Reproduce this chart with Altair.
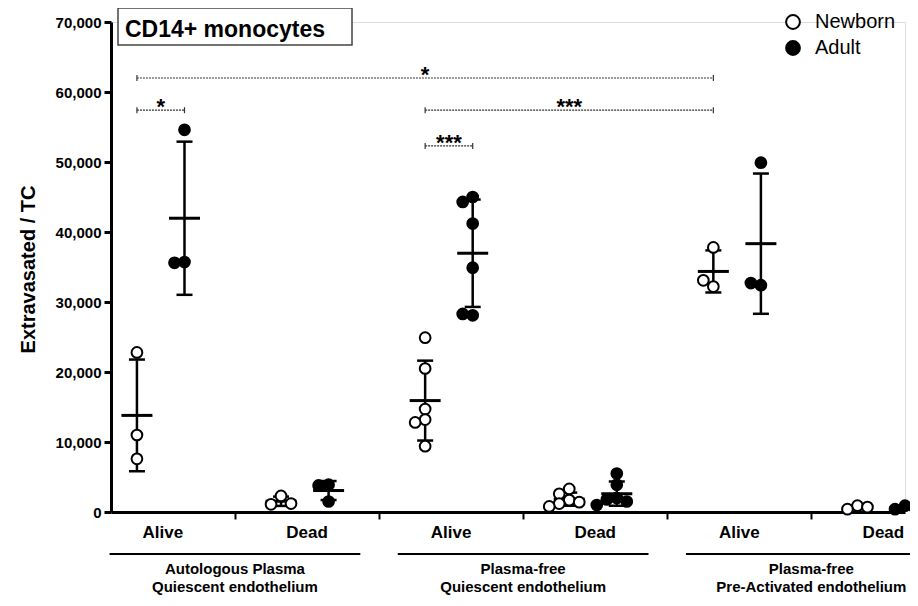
import altair as alt
import pandas as pd

# ---------------- data ----------------
categories = ["Alive", "Dead", "Alive", "Dead", "Alive", "Dead"]
conditions = [
    "Autologous Plasma\nQuiescent endothelium",
    "Plasma-free\nQuiescent endothelium",
    "Plasma-free\nPre-Activated endothelium",
]
groups = ["Newborn", "Adult"]

newborn = [
    [22800, 11000, 7600],
    [2300, 1100, 1200],
    [24900, 20500, 14700, 13200, 12800, 9400],
    [3300, 2600, 1700, 1400, 1200, 800],
    [37800, 32200, 33100],
    [900, 400, 700],
]
adult = [
    [54600, 35700, 35600],
    [3900, 3800, 1500],
    [45000, 44300, 41200, 34900, 28100, 28300],
    [5500, 3900, 2000, 1800, 1500, 1000],
    [49900, 32400, 32700],
    [900, 400, 600],
]

y_ticks = [0, 10000, 20000, 30000, 40000, 50000, 60000, 70000]

bracket_from = [(0, "Newborn"), (0, "Newborn"), (2, "Newborn"), (2, "Newborn")]
bracket_to = [(4, "Newborn"), (0, "Adult"), (4, "Newborn"), (2, "Adult")]
bracket_level = [62000, 57400, 57400, 52300]
bracket_label = ["*", "*", "***", "***"]

# ---------------- layout ----------------
W, H = 794, 490
X_DOMAIN = [-0.36, 5.15]
Y_MAX = 70000
SHIFT = {"Newborn": -0.18, "Adult": 0.15}
FONT = "Liberation Sans"

px_per_x = W / (X_DOMAIN[1] - X_DOMAIN[0])
px_per_y = H / Y_MAX


def swarm(vals, min_d=9, step=10):
    placed, offs = [], []
    for v in vals:
        py = v * px_per_y
        ox = 0
        for k in [0, -1, 1, -2, 2, -3, 3]:
            ox = k * step
            if all((ox - qx) ** 2 + (py - qy) ** 2 >= min_d ** 2 for qx, qy in placed):
                break
        placed.append((ox, py))
        offs.append(ox)
    return offs


rows = []
for g, series in (("Newborn", newborn), ("Adult", adult)):
    for i, vals in enumerate(series):
        xc = i + SHIFT[g]
        for v, o in zip(vals, swarm(vals)):
            rows.append({"group": g, "idx": i, "value": v, "xc": xc, "x": xc + o / px_per_x})
df = pd.DataFrame(rows)

df_cat = pd.DataFrame({"idx": list(range(len(categories))), "label": categories})
df_cond = pd.DataFrame({
    "c": [0.5, 2.5, 4.5],
    "x1": [0.5 - 0.87, 2.5 - 0.87, 4.5 - 0.87],
    "x2": [0.5 + 0.87, 2.5 + 0.87, 4.5 + 0.87],
    "label": conditions,
})
df_br = pd.DataFrame({
    "x1": [a + SHIFT[g] for a, g in bracket_from],
    "x2": [a + SHIFT[g] for a, g in bracket_to],
    "level": bracket_level,
    "label": bracket_label,
})
df_br["xm"] = (df_br["x1"] + df_br["x2"]) / 2

xscale = alt.Scale(domain=X_DOMAIN, nice=False, zero=False)
yscale = alt.Scale(domain=[0, Y_MAX], nice=False)

xaxis = alt.Axis(values=[0.5, 1.5, 2.5, 3.5, 4.5], labels=False, title=None, grid=False,
                 domainColor="black", domainWidth=3, tickColor="black", tickWidth=2, tickSize=7)
yaxis = alt.Axis(values=y_ticks, format=",.0f", title="Extravasated / TC", grid=False,
                 domainColor="black", domainWidth=3, tickColor="black", tickWidth=3, tickSize=7,
                 labelFontSize=15, labelFontWeight="bold", labelColor="black", labelPadding=3,
                 labelFont=FONT, titleFont=FONT, titleFontSize=20, titleFontWeight="bold",
                 titleColor="black", titleX=-83, titleY=247, titleBaseline="middle", titleAngle=-90)


def X(f):
    return alt.X(f, scale=xscale, axis=xaxis)


def Y(f):
    return alt.Y(f, scale=yscale, axis=yaxis)


stats = (
    alt.Chart(df)
    .transform_aggregate(m="mean(value)", sd="stdev(value)", groupby=["xc"])
    .transform_calculate(lo="datum.m - datum.sd", hi="datum.m + datum.sd")
)
err_rule = stats.mark_rule(color="black", strokeWidth=2.5).encode(x=X("xc:Q"), y=Y("lo:Q"), y2="hi:Q")
err_caps = (
    stats.transform_fold(["lo", "hi"], as_=["k", "v"])
    .mark_tick(orient="horizontal", size=16, thickness=2.5, color="black", opacity=1)
    .encode(x=X("xc:Q"), y=Y("v:Q"))
)
mean_tick = stats.mark_tick(orient="horizontal", size=31, thickness=3, color="black", opacity=1).encode(
    x=X("xc:Q"), y=Y("m:Q")
)

points = alt.Chart(df).mark_point(
    shape="circle", filled=True, size=115, stroke="black", strokeWidth=2, opacity=1
).encode(
    x=X("x:Q"),
    y=Y("value:Q"),
    fill=alt.Fill(
        "group:N",
        scale=alt.Scale(domain=groups, range=["white", "black"]),
        legend=alt.Legend(
            title=None, orient="none", legendX=672, legendY=-10, symbolType="circle",
            symbolSize=190, symbolStrokeColor="black", symbolStrokeWidth=2,
            labelFontSize=20, labelFont=FONT, labelColor="black", labelOffset=12,
            rowPadding=4, padding=0,
        ),
    ),
)

br_rule = alt.Chart(df_br).mark_rule(color="#333", strokeWidth=1.2, strokeDash=[2, 1]).encode(
    x=X("x1:Q"), x2="x2:Q", y=Y("level:Q")
)
br_caps = (
    alt.Chart(df_br)
    .transform_fold(["x1", "x2"], as_=["k", "xv"])
    .mark_tick(orient="vertical", size=6, thickness=1.2, color="#333", opacity=1)
    .encode(x=X("xv:Q"), y=Y("level:Q"))
)
br_text = alt.Chart(df_br).mark_text(
    fontSize=22, fontWeight="bold", font=FONT, color="black", baseline="alphabetic", dy=4
).encode(x=X("xm:Q"), y=Y("level:Q"), text="label:N")

cat_text = alt.Chart(df_cat).mark_text(
    fontSize=17, fontWeight="bold", font=FONT, color="black", baseline="middle"
).encode(x=X("idx:Q"), y=alt.value(511), text="label:N")

cond_rule = alt.Chart(df_cond).mark_rule(color="black", strokeWidth=2).encode(
    x=X("x1:Q"), x2="x2:Q", y=alt.value(532)
)
cond_text = alt.Chart(df_cond).mark_text(
    fontSize=15, fontWeight="bold", font=FONT, color="black", baseline="top", lineBreak="\n", lineHeight=18
).encode(x=X("c:Q"), y=alt.value(540), text="label:N")

title_df = pd.DataFrame({"t": ["CD14+ monocytes"]})
title_box = alt.Chart(title_df).mark_rect(fill="white", stroke="#444", strokeWidth=1.5).encode(
    x=alt.value(7), x2=alt.value(241), y=alt.value(-14), y2=alt.value(23)
)
title_text = alt.Chart(title_df).mark_text(
    align="left", baseline="middle", fontSize=23, fontWeight="bold", font=FONT, color="black"
).encode(x=alt.value(14), y=alt.value(8), text="t:N")

chart = alt.layer(
    br_rule, br_caps, br_text, err_rule, err_caps, mean_tick, points,
    cat_text, cond_rule, cond_text, title_box, title_text,
).properties(
    width=W, height=H,
    padding={"left": 103, "top": 14, "right": 5, "bottom": 85},
    autosize=alt.AutoSizeParams(type="none"),
).configure_view(stroke=None).configure(font=FONT)

chart.save("out.html", embed_options={"renderer": "svg", "actions": False})
